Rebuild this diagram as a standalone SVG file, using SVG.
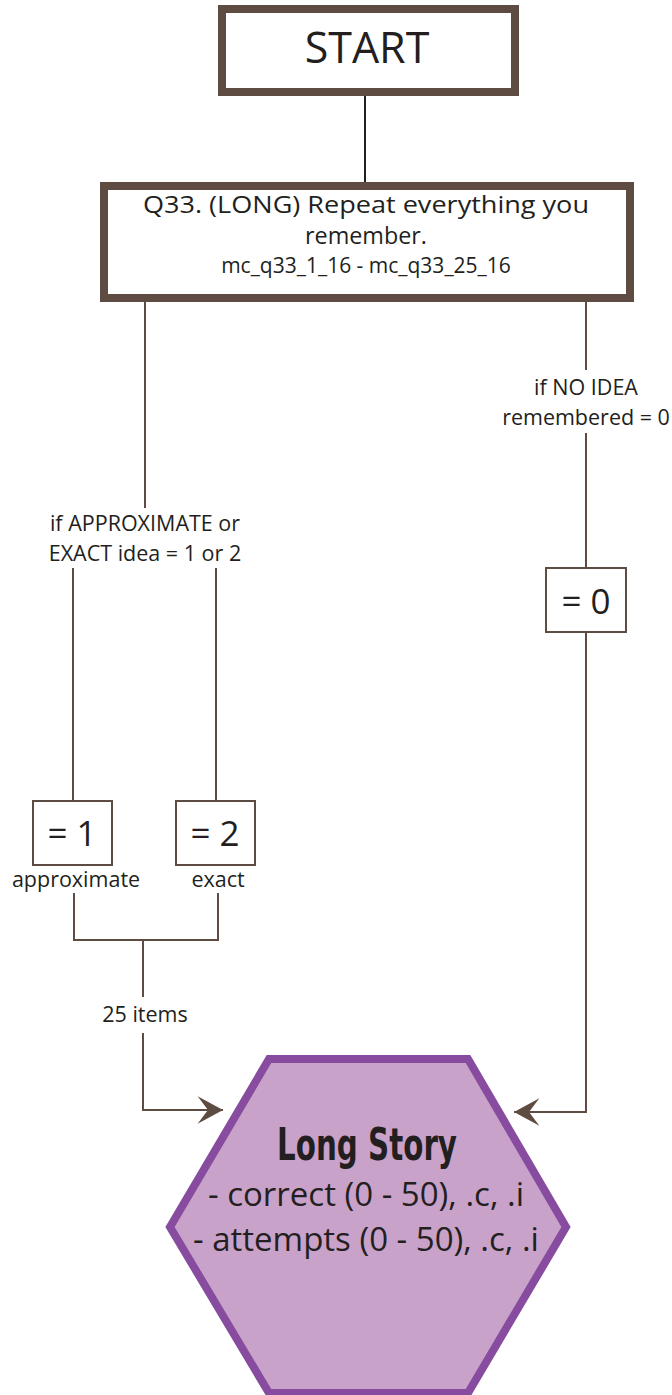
<svg xmlns="http://www.w3.org/2000/svg" width="672" height="1395" viewBox="0 0 672 1395">
<style>
text{font-family:"Open Sans","Liberation Sans",sans-serif;fill:#231f20;text-anchor:middle}
.thick{fill:#fff;stroke:#5e4b42;stroke-width:8}
.thin{fill:#fff;stroke:#5e4b42;stroke-width:2}
.ln{fill:none;stroke:#5e4b42;stroke-width:2}
.lb{font-size:21.5px}
.eq{font-size:35px}
.hx{font-size:33px}
</style>
<defs>
<marker id="ah" markerUnits="userSpaceOnUse" markerWidth="30" markerHeight="30" viewBox="-24 -13 26 26" refX="0" refY="0" orient="auto">
<path d="M0,0 L-22,-12 L-13,0 L-22,12 Z" fill="#5e4b42"/>
</marker>
</defs>
<g id="connectors">
<line x1="365" y1="92" x2="365" y2="186" stroke="#231f20" stroke-width="2"/>
<line class="ln" x1="145" y1="302" x2="145" y2="508"/>
<line class="ln" x1="73" y1="568" x2="73" y2="800"/>
<line class="ln" x1="216" y1="568" x2="216" y2="800"/>
<line class="ln" x1="586" y1="302" x2="586" y2="370"/>
<line class="ln" x1="586" y1="433" x2="586" y2="567"/>
<polyline class="ln" points="586,633 586,1112 514,1112" marker-end="url(#ah)"/>
<polyline class="ln" points="74,893 74,940 218,940 218,893"/>
<line class="ln" x1="143" y1="940" x2="143" y2="997"/>
<polyline class="ln" points="143,1033 143,1110 223,1110" marker-end="url(#ah)"/>
</g>
<g id="start">
<rect class="thick" x="222" y="9" width="293" height="83"/>
<text x="367" y="63" style="font-size:43px">START</text>
</g>
<g id="q33">
<rect class="thick" x="104" y="186" width="526" height="112"/>
<text x="366" y="213" style="font-size:23px" textLength="446" lengthAdjust="spacingAndGlyphs">Q33. (LONG) Repeat everything you</text>
<text x="366" y="244" style="font-size:23px" textLength="122" lengthAdjust="spacingAndGlyphs">remember.</text>
<text x="366" y="273" style="font-size:21px">mc_q33_1_16 - mc_q33_25_16</text>
</g>
<g id="label-approx">
<text class="lb" x="145" y="531">if APPROXIMATE or</text>
<text class="lb" x="145" y="561">EXACT idea = 1 or 2</text>
</g>
<g id="label-noidea">
<text class="lb" x="586" y="395">if NO IDEA</text>
<text class="lb" x="586" y="425">remembered = 0</text>
</g>
<g id="eq0">
<rect class="thin" x="546" y="568" width="80" height="64"/>
<text class="eq" x="586" y="614">= 0</text>
</g>
<g id="eq1">
<rect class="thin" x="33" y="801" width="79" height="64"/>
<text class="eq" x="72" y="846">= 1</text>
<text class="lb" x="76" y="887">approximate</text>
</g>
<g id="eq2">
<rect class="thin" x="176" y="801" width="79" height="64"/>
<text class="eq" x="215" y="846">= 2</text>
<text class="lb" x="218" y="887">exact</text>
</g>
<g id="items">
<text class="lb" x="145" y="1022">25 items</text>
</g>
<g id="long-story">
<polygon points="269,1059 468,1059 566,1227 468,1393 269,1393 170,1227" fill="#c9a2ca" stroke="#874c9f" stroke-width="8"/>
<text x="367" y="1160" style="font-family:'Liberation Sans Narrow','DejaVu Sans Condensed',sans-serif;font-weight:bold;font-size:44px" textLength="180" lengthAdjust="spacingAndGlyphs">Long Story</text>
<text class="hx" x="366" y="1206">- correct (0 - 50), .c, .i</text>
<text class="hx" x="366" y="1251">- attempts (0 - 50), .c, .i</text>
</g>
</svg>
